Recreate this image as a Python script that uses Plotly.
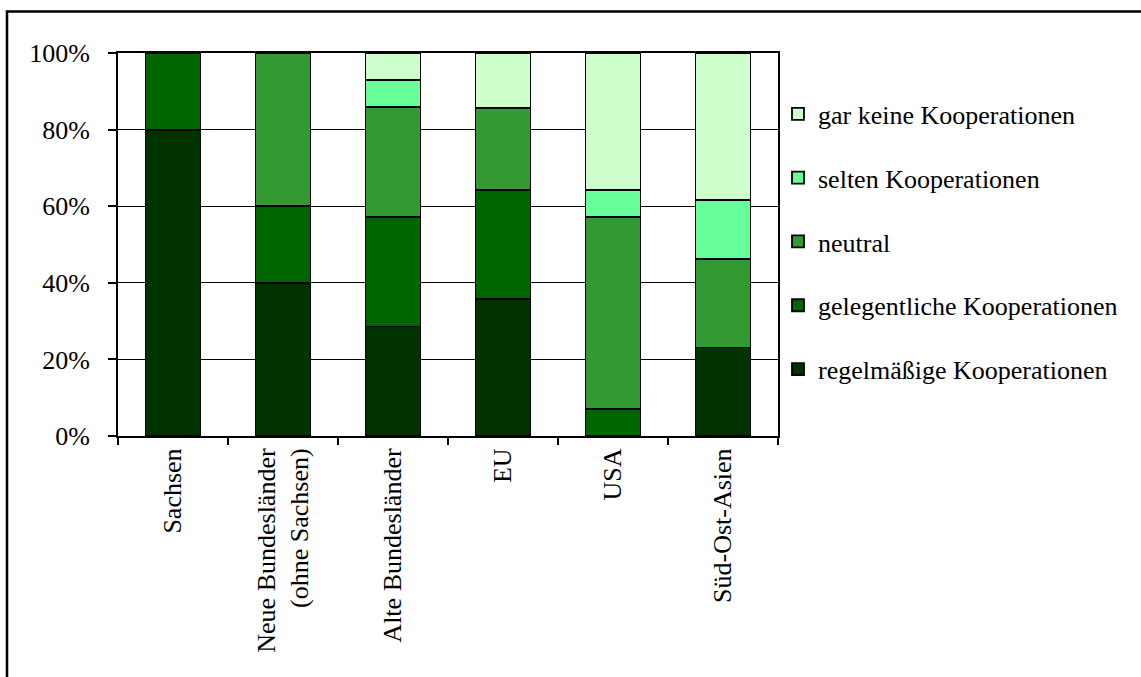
import plotly.graph_objects as go

# Regions and share of answers (%) per cooperation category
regions = [
    "Sachsen",
    "Neue Bundesländer<br>(ohne Sachsen)",
    "Alte Bundesländer",
    "EU",
    "USA",
    "Süd-Ost-Asien",
]
regelmaessig = [80.0, 40.0, 28.6, 35.7, 0.0, 23.1]
gelegentlich = [20.0, 20.0, 28.6, 28.6, 7.1, 0.0]
neutral = [0.0, 40.0, 28.6, 21.4, 50.0, 23.1]
selten = [0.0, 0.0, 7.1, 0.0, 7.1, 15.4]
gar_keine = [0.0, 0.0, 7.1, 14.3, 35.7, 38.5]

series = [
    ("regelmäßige Kooperationen", regelmaessig, "#003300"),
    ("gelegentliche Kooperationen", gelegentlich, "#006600"),
    ("neutral", neutral, "#339933"),
    ("selten Kooperationen", selten, "#66FF99"),
    ("gar keine Kooperationen", gar_keine, "#CCFFCC"),
]

FONT = "Liberation Serif"
SIZE = 26

fig = go.Figure()
n = len(series)
for i, (name, vals, color) in enumerate(series):
    fig.add_trace(
        go.Bar(
            x=regions,
            y=vals,
            name=name,
            legendgroup=name,
            legendrank=n - i,
            marker=dict(color=color, line=dict(color="black", width=1.8)),
            hoverinfo="x+y+name",
        )
    )

W, H = 1141, 677
left, right, top, bottom = 118, 778, 52.5, 436
pw, ph = right - left, bottom - top

def px_x(px):
    return (px - left) / pw

def px_y(py):
    return (bottom - py) / ph

fig.update_layout(
    width=W,
    height=H,
    autosize=False,
    barmode="stack",
    bargap=0.5,
    plot_bgcolor="white",
    paper_bgcolor="white",
    font=dict(family=FONT, size=SIZE, color="black"),
    margin=dict(l=left, r=W - right, t=top, b=H - bottom, pad=0),
    showlegend=True,
    legend=dict(
        traceorder="grouped",
        tracegroupgap=27,
        x=px_x(778),
        y=px_y(90),
        xanchor="left",
        yanchor="top",
        font=dict(family=FONT, size=SIZE, color="black"),
        itemclick=False,
        bgcolor="rgba(0,0,0,0)",
    ),
    xaxis=dict(
        type="category",
        automargin=False,
        tickangle=-90,
        tickson="boundaries",
        ticks="outside",
        ticklen=7,
        tickwidth=1.5,
        tickcolor="black",
        showline=True,
        linecolor="black",
        linewidth=2,
        mirror=True,
        showgrid=False,
        tickfont=dict(family=FONT, size=SIZE, color="black"),
    ),
    yaxis=dict(
        range=[0, 100],
        automargin=False,
        tick0=0,
        dtick=20,
        ticksuffix="%",
        ticks="outside",
        ticklen=8,
        tickwidth=1.5,
        tickcolor="black",
        showline=True,
        linecolor="black",
        linewidth=2,
        mirror=True,
        showgrid=True,
        gridcolor="black",
        gridwidth=1.4,
        zeroline=False,
        ticklabelstandoff=13,
        tickfont=dict(family=FONT, size=SIZE, color="black"),
    ),
    shapes=[
        dict(
            type="rect",
            xref="paper",
            yref="paper",
            x0=px_x(7),
            x1=px_x(W + 20),
            y0=px_y(H + 20),
            y1=px_y(11),
            line=dict(color="black", width=2.5),
            fillcolor="rgba(0,0,0,0)",
            layer="below",
        )
    ],
)

fig.write_html("out.html")
